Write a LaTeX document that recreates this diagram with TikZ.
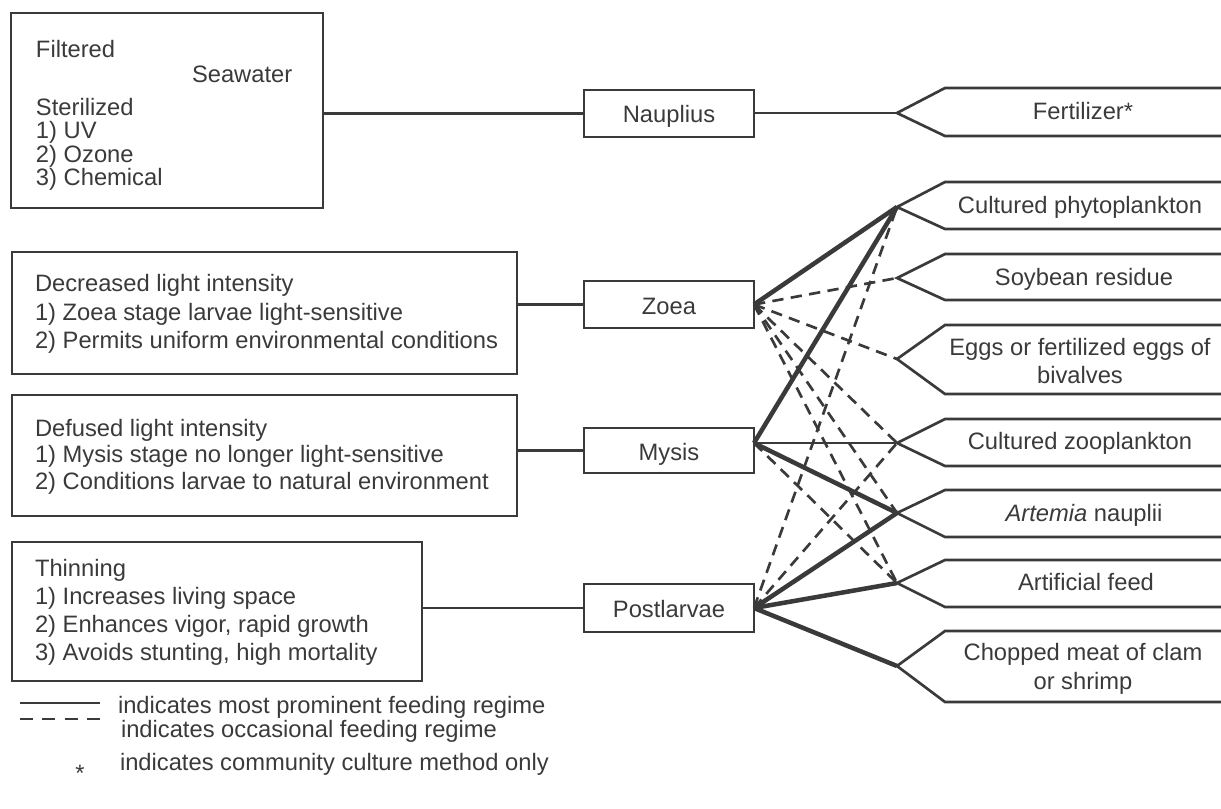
\documentclass[tikz,border=0pt]{standalone}
\usepackage{fontspec}
\setmainfont{Liberation Sans}
\usetikzlibrary{fit}
\definecolor{ink}{RGB}{58,58,58}
\newcommand\feedoutline[3]{\draw[feedline] (1226,#1) -- (945,#1) -- (897,#2) -- (945,#3) -- (1226,#3);}
\begin{document}
\begin{tikzpicture}[x=0.75pt,y=-0.75pt,
  every node/.style={text=ink, font=\fontsize{17.8}{21}\selectfont, inner sep=0pt, outer sep=0pt},
  box/.style={draw=ink, line width=2pt, inner sep=0pt},
  txt/.style={anchor=base west},
  ctr/.style={anchor=base},
  conn/.style={draw=ink, line width=2pt},
  strong/.style={draw=ink, line width=3.4pt},
  occ/.style={draw=ink, line width=2pt, dash pattern=on 8.5pt off 5.5pt},
  feedline/.style={draw=ink, line width=2pt, line join=miter}]
\useasboundingbox (0,0) rectangle (1221,808);

% left boxes
\node[box, fit={(11,13) (323,208)}] (src) {};
\node[txt] (s1) at (36,57) {Filtered};
\node[txt] (s2) at (192,82) {Seawater};
\node[txt] (s3) at (36,115) {Sterilized};
\node[txt] (s4) at (36,138.5) {1) UV};
\node[txt] (s5) at (36,162) {2) Ozone};
\node[txt] (s6) at (36,185.5) {3) Chemical};

\node[box, fit={(12,252) (517,374)}] (dz) {};
\node[txt] (z1) at (35,291) {Decreased light intensity};
\node[txt] (z2) at (35,320) {1) Zoea stage larvae light-sensitive};
\node[txt] (z3) at (35,348) {2) Permits uniform environmental conditions};

\node[box, fit={(12,395) (517,516)}] (dm) {};
\node[txt] (m1) at (35,436) {Defused light intensity};
\node[txt] (m2) at (35,462) {1) Mysis stage no longer light-sensitive};
\node[txt] (m3) at (35,489) {2) Conditions larvae to natural environment};

\node[box, fit={(12,542) (422,681)}] (dp) {};
\node[txt] (p1) at (35,576) {Thinning};
\node[txt] (p2) at (35,604) {1) Increases living space};
\node[txt] (p3) at (35,632) {2) Enhances vigor, rapid growth};
\node[txt] (p4) at (35,660) {3) Avoids stunting, high mortality};

% stage boxes
\node[box, fit={(584,90) (754,137)}] (naup) {};
\node[ctr] (naupT) at (669,122) {Nauplius};
\node[box, fit={(584,281) (754,328)}] (zoea) {};
\node[ctr] (zoeaT) at (669,314) {Zoea};
\node[box, fit={(584,428) (754,473)}] (mysis) {};
\node[ctr] (mysisT) at (669,460) {Mysis};
\node[box, fit={(584,584) (754,632)}] (post) {};
\node[ctr] (postT) at (669,617) {Postlarvae};

% connections left -> stage
\draw[conn] (src.east |- naup.west) -- (naup.west);
\draw[conn] (dz.east |- zoea.west) -- (zoea.west);
\draw[conn] (dm.east |- mysis.west) -- (mysis.west);
\draw[conn] (dp.east |- post.west) -- (post.west);

% feed shapes
\feedoutline{88}{113}{136}
\feedoutline{182}{207}{229}
\feedoutline{254}{278}{300}
\feedoutline{325}{359}{394}
\feedoutline{419}{443}{466}
\feedoutline{490}{513}{537}
\feedoutline{560}{583}{607}
\feedoutline{631}{666}{702}
\coordinate (fert) at (897,113);
\coordinate (phyto) at (897,207);
\coordinate (soy) at (897,278);
\coordinate (eggs) at (897,359);
\coordinate (zoo) at (897,443);
\coordinate (art) at (897,513);
\coordinate (feed) at (897,583);
\coordinate (chop) at (897,666);

\node[ctr] (fertT) at (1083,119) {Fertilizer*};
\node[ctr] (phytoT) at (1080,213) {Cultured phytoplankton};
\node[ctr] (soyT) at (1084,285) {Soybean residue};
\node[ctr] (eggsT1) at (1080,355) {Eggs or fertilized eggs of};
\node[ctr] (eggsT2) at (1080,383) {bivalves};
\node[ctr] (zooT) at (1080,449) {Cultured zooplankton};
\node[ctr] (artT) at (1084,521) {\textit{Artemia} nauplii};
\node[ctr] (feedT) at (1086,590) {Artificial feed};
\node[ctr] (chopT1) at (1083,660) {Chopped meat of clam};
\node[ctr] (chopT2) at (1083,689) {or shrimp};

% feeding connectors
\coordinate (zP) at (zoea.east);
\coordinate (mP) at (754,443);
\coordinate (pP) at (post.east);

\draw[occ] (zP) -- (soy);
\draw[occ] (zP) -- (eggs);
\draw[occ] (zP) -- (zoo);
\draw[occ] (zP) -- (art);
\draw[occ] (zP) -- (feed);
\draw[occ] (mP) -- (feed);
\draw[occ] (pP) -- (phyto);
\draw[occ] (pP) -- (zoo);

\draw[conn] (naup.east |- fert) -- (fert);
\draw[strong] (zP) -- (phyto);
\draw[strong] (mP) -- (phyto);
\draw[conn] (mP) -- (zoo);
\draw[strong] (mP) -- (art);
\draw[strong] (pP) -- (art);
\draw[strong] (pP) -- (feed);
\draw[strong] (pP) -- (chop);

% legend
\coordinate (l1a) at (20,703);
\coordinate (l1b) at (100,703);
\coordinate (l2a) at (20,719);
\coordinate (l2b) at (100,719);
\draw[conn] (l1a) -- (l1b);
\draw[draw=ink, line width=2pt, dash pattern=on 9.75pt off 7pt] (l2a) -- (l2b);
\node[txt] (leg1) at (118,713) {indicates most prominent feeding regime};
\node[txt] (leg2) at (121,737) {indicates occasional feeding regime};
\node (legstar) at (80,773) {*};
\node[txt] (leg3) at (120,770) {indicates community culture method only};
\end{tikzpicture}
\end{document}
